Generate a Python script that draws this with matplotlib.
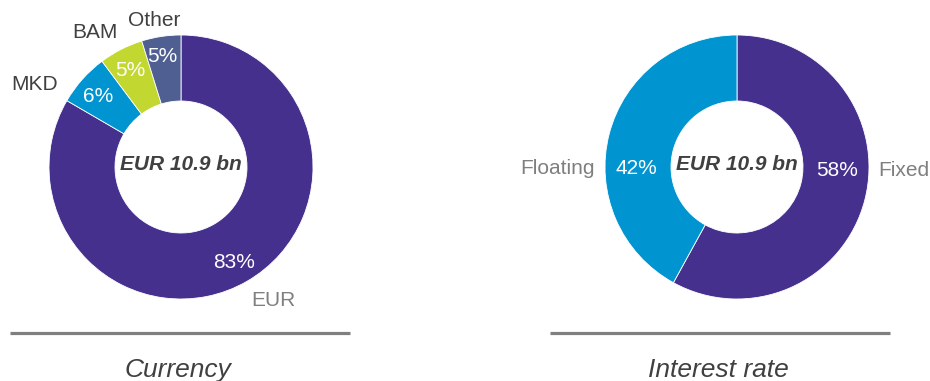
import matplotlib
matplotlib.use("Agg")
import matplotlib.pyplot as plt
from matplotlib.lines import Line2D

plt.rcParams['font.family'] = ['Liberation Sans', 'DejaVu Sans']

# ---- data ----
currency_labels = ["EUR", "MKD", "BAM", "Other"]
currency_values = [83.3, 6.4, 5.4, 4.8]
currency_pct_text = ["83%", "6%", "5%", "5%"]

rate_labels = ["Fixed", "Floating"]
rate_values = [58, 42]
rate_pct_text = ["58%", "42%"]

center_text = "EUR 10.9 bn"
titles = ["Currency", "Interest rate"]

# ---- style ----
PURPLE = "#46308E"
BLUE = "#0094D0"
LIME = "#C2D72F"
SLATE = "#4F5F91"
DARK = "#404040"
GRAY = "#7F7F7F"

W, H = 930, 381
fig = plt.figure(figsize=(W / 100, H / 100), dpi=100)
ax = fig.add_axes([0, 0, 1, 1])
ax.set_xlim(0, W)
ax.set_ylim(0, H)
ax.set_aspect('equal')
ax.axis('off')


def Y(py):
    return H - py


R = 132
c1 = (181, Y(167))
c2 = (737, Y(167))

ax.pie(currency_values, colors=[PURPLE, BLUE, LIME, SLATE], startangle=90,
       counterclock=False, center=c1, radius=R, frame=True,
       wedgeprops=dict(width=R * 0.5, edgecolor='white', linewidth=0.6))
ax.pie(rate_values, colors=[PURPLE, BLUE], startangle=90,
       counterclock=False, center=c2, radius=R, frame=True,
       wedgeprops=dict(width=R * 0.5, edgecolor='white', linewidth=0.6))
ax.set_xlim(0, W)
ax.set_ylim(0, H)
ax.axis('off')

FS = 15
# currency labels: (dx, dy) offsets from center in px (dy downward)
cur_pct_off = [(53, 95), (-83, -70), (-51, -97), (-19, -110)]
cur_lab_off = [(92, 133), (-146, -82), (-86, -134), (-27, -147)]
cur_lab_col = [GRAY, DARK, DARK, DARK]
for t, (dx, dy) in zip(currency_pct_text, cur_pct_off):
    ax.text(c1[0] + dx, c1[1] - dy, t, color='white', fontsize=FS,
            ha='center', va='center')
for t, (dx, dy), col in zip(currency_labels, cur_lab_off, cur_lab_col):
    ax.text(c1[0] + dx, c1[1] - dy, t, color=col, fontsize=FS,
            ha='center', va='center')

rate_pct_off = [(100, 4), (-101, 1)]
rate_lab_off = [(167, 3), (-180, 1)]
for t, (dx, dy) in zip(rate_pct_text, rate_pct_off):
    ax.text(c2[0] + dx, c2[1] - dy, t, color='white', fontsize=FS,
            ha='center', va='center')
for t, (dx, dy) in zip(rate_labels, rate_lab_off):
    ax.text(c2[0] + dx, c2[1] - dy, t, color=GRAY, fontsize=FS,
            ha='center', va='center')

for c in (c1, c2):
    ax.text(c[0], c[1] + 2, center_text, color=DARK, fontsize=15,
            fontweight='bold', fontstyle='italic', ha='center', va='center')

# separator lines and titles
for x0, x1, title in [(10, 350, titles[0]), (550, 890, titles[1])]:
    ax.add_line(Line2D([x0, x1], [Y(333), Y(333)], color=GRAY, linewidth=2.3,
                       solid_capstyle='butt'))
    ax.text((x0 + x1) / 2 - 2, Y(377), title, color=DARK, fontsize=19,
            fontstyle='italic', ha='center', va='baseline')

fig.savefig("out.png", dpi=100)
